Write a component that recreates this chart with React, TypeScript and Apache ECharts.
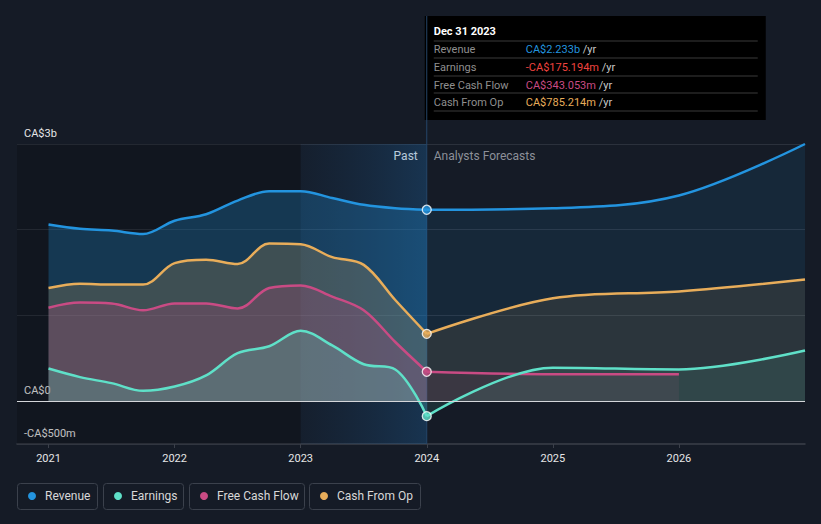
import React, { useEffect, useRef } from 'react';
import * as echarts from 'echarts';

const pastX = [2021, 2021.25, 2021.5, 2021.75, 2022, 2022.25, 2022.5, 2022.75, 2023, 2023.25, 2023.5, 2023.75, 2024];
const revenuePast = [2060, 2010, 1990, 1950, 2105, 2180, 2340, 2450, 2450, 2370, 2290, 2250, 2233];
const earningsPast = [380, 280, 210, 120, 170, 300, 560, 640, 820, 650, 430, 370, -175.194];
const fcfPast = [1090, 1150, 1140, 1060, 1140, 1140, 1080, 1320, 1350, 1220, 1060, 690, 343.053];
const cfoPast = [1320, 1370, 1360, 1360, 1610, 1650, 1600, 1840, 1830, 1680, 1590, 1180, 785.214];

const forecastX = [2024, 2025, 2026, 2027];
const revenueForecast = [2233, 2250, 2400, 3000];
const earningsForecast = [-175.194, 390, 370, 590];
const fcfForecast = [343.053, 315, 315];
const cfoForecast = [785.214, 1200, 1280, 1420];

const xTicks = [2021, 2022, 2023, 2024, 2025, 2026];
const yTickLabels: Record<string, string> = { '3000': 'CA$3b', '0': 'CA$0', '-500': '-CA$500m' };
const tooltipDate = 'Dec 31 2023';
const names = ['Revenue', 'Earnings', 'Free Cash Flow', 'Cash From Op'];
const lineColors = ['#2394df', '#5fe0c8', '#c94b84', '#e8ad5a'];
const valueColors = ['#2394df', '#f0433f', '#c94b84', '#e8ad5a'];
const latest = [2233, -175.194, 343.053, 785.214];

const FONT = 'Roboto, "Noto Sans", sans-serif';

function fmt(v: number): string {
  const a = Math.abs(v);
  const s = a >= 1000 ? (a / 1000).toFixed(3) + 'b' : a.toFixed(3) + 'm';
  return (v < 0 ? '-CA$' : 'CA$') + s;
}

function lineSeries(name: string, color: string, xs: number[], ys: number[], opacity: number, extra: any = {}) {
  return {
    type: 'line',
    name,
    data: xs.slice(0, ys.length).map((x, i) => [x, ys[i]]),
    smooth: 0.35,
    symbol: 'none',
    lineStyle: { color, width: 2.5 },
    areaStyle: { color, opacity },
    emphasis: { disabled: true },
    ...extra,
  };
}

export default function App() {
  const ref = useRef<HTMLDivElement>(null);
  useEffect(() => {
    document.body.style.margin = '0';
    document.body.style.background = '#151b26';
    const chart = echarts.init(ref.current!, null, { renderer: 'svg' });
    const pastA = 0.27;
    const foreA = 0.11;
    const series: any[] = [
      lineSeries(names[0], lineColors[0], pastX, revenuePast, pastA, {
        markArea: {
          silent: true,
          data: [
            [{ xAxis: 2020.75, itemStyle: { color: 'rgba(0,0,0,0.17)' } }, { xAxis: 2023 }],
            [
              {
                xAxis: 2023,
                itemStyle: {
                  color: new echarts.graphic.LinearGradient(0, 0, 1, 0, [
                    { offset: 0, color: 'rgba(25,80,135,0.08)' },
                    { offset: 1, color: 'rgba(30,105,170,0.32)' },
                  ]),
                },
              },
              { xAxis: 2024 },
            ],
          ],
        },
      }),
      lineSeries(names[3], lineColors[3], pastX, cfoPast, 0.2),
      lineSeries(names[2], lineColors[2], pastX, fcfPast, 0.22),
      lineSeries(names[1], lineColors[1], pastX, earningsPast, 0.22),
      lineSeries(names[0], lineColors[0], forecastX, revenueForecast, foreA),
      lineSeries(names[3], lineColors[3], forecastX, cfoForecast, 0.1),
      lineSeries(names[2], lineColors[2], forecastX, fcfForecast, 0.1),
      lineSeries(names[1], lineColors[1], forecastX, earningsForecast, 0.1, {
        markLine: {
          silent: true,
          symbol: 'none',
          label: { show: false },
          lineStyle: { color: '#d4d6da', width: 1.2, type: 'solid' },
          data: [{ yAxis: 0 }],
        },
      }),
      {
        type: 'scatter',
        symbol: 'circle',
        symbolSize: 9,
        z: 5,
        data: latest.map((v, i) => ({
          value: [2024, v],
          itemStyle: { color: lineColors[i], borderColor: '#ffffff', borderWidth: 1.3 },
        })),
      },
    ];

    chart.setOption({
      animation: false,
      backgroundColor: '#151b26',
      textStyle: { fontFamily: FONT },
      grid: { left: 17, right: 16, top: 144, bottom: 80 },
      xAxis: {
        type: 'value',
        min: 2020.75,
        max: 2027,
        splitLine: { show: false },
        axisLine: { onZero: false, lineStyle: { color: '#3b404a', width: 1.5 } },
        axisTick: { show: true, customValues: xTicks, length: 4, lineStyle: { color: '#3b404a' } },
        axisLabel: {
          customValues: xTicks,
          color: '#e6e6e6',
          fontSize: 11,
          margin: 9,
          fontFamily: FONT,
          formatter: (v: number) => String(Math.round(v)),
        },
      },
      yAxis: {
        type: 'value',
        min: -500,
        max: 3000,
        interval: 500,
        axisLine: { show: false },
        axisTick: { show: false },
        splitLine: { show: true, lineStyle: { color: ['rgba(0,0,0,0)', '#2b313c'], width: 1 } },
        axisLabel: {
          inside: true,
          margin: 7,
          color: '#e6e6e6',
          fontSize: 11,
          fontFamily: FONT,
          verticalAlign: 'bottom',
          padding: [0, 0, 5, 0],
          formatter: (v: number) => yTickLabels[String(v)] ?? '',
        },
      },
      series,
    });

    const px = chart.convertToPixel({ xAxisIndex: 0 }, 2024) as number;
    const boxX = px - 2;
    const graphic: any[] = [];
    graphic.push({
      type: 'line',
      shape: { x1: px, y1: 16, x2: px, y2: 444 },
      style: { stroke: '#24466a', lineWidth: 1 },
      z: 1,
    });
    graphic.push({
      type: 'text',
      x: px - 9,
      y: 156,
      style: { text: 'Past', fill: '#f0f0f0', font: `12px ${FONT}`, align: 'right', verticalAlign: 'middle' },
    });
    graphic.push({
      type: 'text',
      x: px + 7,
      y: 156,
      style: { text: 'Analysts Forecasts', fill: '#8c9099', font: `12px ${FONT}`, align: 'left', verticalAlign: 'middle' },
    });
    const tip: any[] = [
      { type: 'rect', shape: { x: 0, y: 0, width: 341, height: 104 }, style: { fill: '#000000' } },
      {
        type: 'text',
        x: 9,
        y: 15,
        style: { text: tooltipDate, fill: '#ffffff', font: `bold 11px ${FONT}`, verticalAlign: 'middle' },
      },
    ];
    const rowY = [33, 51, 69, 86];
    const sepY = [25, 42, 60, 77, 95];
    sepY.forEach((y) =>
      tip.push({ type: 'line', shape: { x1: 9, y1: y, x2: 333, y2: y }, style: { stroke: '#3a3a3a', lineWidth: 1 } })
    );
    names.forEach((n, i) => {
      tip.push({
        type: 'text',
        x: 9,
        y: rowY[i],
        style: { text: n, fill: '#8f8f8f', font: `11px ${FONT}`, verticalAlign: 'middle' },
      });
      tip.push({
        type: 'text',
        x: 101,
        y: rowY[i],
        style: {
          text: `{v|${fmt(latest[i])}}{u| /yr}`,
          font: `11px ${FONT}`,
          verticalAlign: 'middle',
          rich: {
            v: { fill: valueColors[i], font: `11px ${FONT}` },
            u: { fill: '#c8c8c8', font: `11px ${FONT}` },
          },
        },
      });
    });
    graphic.push({ type: 'group', x: boxX, y: 16, children: tip, z: 10 });

    const boxes = [
      { x: 17, w: 80 },
      { x: 103, w: 80 },
      { x: 189, w: 115 },
      { x: 309, w: 111 },
    ];
    names.forEach((n, i) => {
      const b = boxes[i];
      graphic.push({
        type: 'group',
        x: b.x,
        y: 483,
        children: [
          {
            type: 'rect',
            shape: { x: 0.5, y: 0.5, width: b.w, height: 26, r: 3 },
            style: { fill: 'none', stroke: '#3b414c', lineWidth: 1 },
          },
          { type: 'circle', shape: { cx: 15, cy: 13, r: 4 }, style: { fill: lineColors[i] } },
          {
            type: 'text',
            x: 28,
            y: 13,
            style: { text: n, fill: '#d8d8d8', font: `12px ${FONT}`, verticalAlign: 'middle' },
          },
        ],
      });
    });
    chart.setOption({ graphic });

    return () => chart.dispose();
  }, []);
  return <div ref={ref} style={{ width: 821, height: 524 }} />;
}
